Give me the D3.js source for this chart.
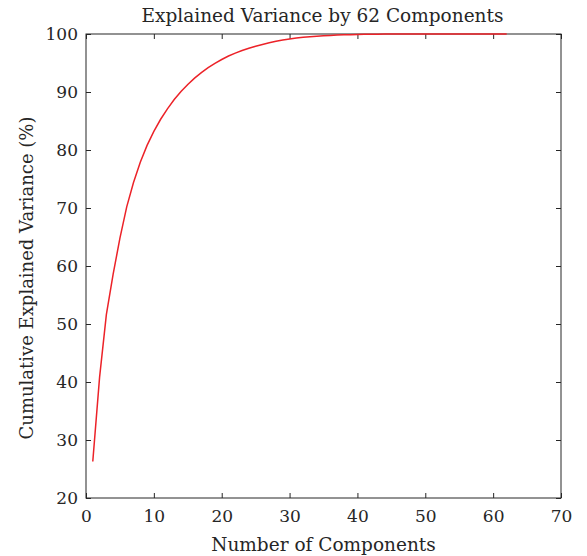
<!DOCTYPE html>
<html>
<head>
<meta charset="utf-8">
<script src="https://cdn.jsdelivr.net/npm/d3@7"></script>
<style>
  html, body { margin: 0; padding: 0; background: #fff; }
  svg { display: block; }
  text { font-family: "DejaVu Serif", "Liberation Serif", serif; fill: #262626; }
</style>
</head>
<body>
<svg id="chart" width="587" height="556"></svg>
<script>
const components = d3.range(1, 63);
const cumulativeVariance = [
  26.3, 40.8, 51.6, 58.6, 64.8, 70.2, 74.4, 77.9, 80.8, 83.2,
  85.3, 87.1, 88.7, 90.1, 91.3, 92.4, 93.35, 94.2, 94.95, 95.6,
  96.2, 96.7, 97.15, 97.55, 97.9, 98.2, 98.5, 98.75, 98.97, 99.15,
  99.3, 99.43, 99.54, 99.63, 99.7, 99.76, 99.81, 99.85, 99.89, 99.92,
  99.94, 99.96, 99.97, 99.98, 99.99, 99.99, 99.99, 99.99, 99.99, 99.99,
  99.99, 99.99, 99.99, 99.99, 99.99, 99.99, 99.99, 99.99, 99.99, 99.99,
  99.99, 100
];
const xTicks = [0, 10, 20, 30, 40, 50, 60, 70];
const yTicks = [20, 30, 40, 50, 60, 70, 80, 90, 100];
const titleText = "Explained Variance by 62 Components";
const xLabel = "Number of Components";
const yLabel = "Cumulative Explained Variance (%)";

const margin = { left: 86, right: 26, top: 34, bottom: 58 };
const W = 587, H = 556;
const svg = d3.select("#chart");
const iw = W - margin.left - margin.right;
const ih = H - margin.top - margin.bottom;

const x = d3.scaleLinear().domain([0, 70]).range([margin.left, margin.left + iw]);
const y = d3.scaleLinear().domain([20, 100]).range([margin.top + ih, margin.top]);

const axisColor = "#262626";
const tickLen = 5;

// box
svg.append("rect")
  .attr("x", x(0)).attr("y", y(100))
  .attr("width", x(70) - x(0)).attr("height", y(20) - y(100))
  .attr("fill", "none").attr("stroke", axisColor).attr("stroke-width", 1);

// axes
const xAxis = svg.append("g").attr("transform", `translate(0,${y(20)})`)
  .call(d3.axisBottom(x).tickValues(xTicks).tickSizeInner(-tickLen).tickSizeOuter(0).tickPadding(12));
const xAxisTop = svg.append("g").attr("transform", `translate(0,${y(100)})`)
  .call(d3.axisTop(x).tickValues(xTicks).tickSizeInner(-tickLen).tickSizeOuter(0).tickFormat(""));
const yAxis = svg.append("g").attr("transform", `translate(${x(0)},0)`)
  .call(d3.axisLeft(y).tickValues(yTicks).tickSizeInner(-tickLen).tickSizeOuter(0).tickPadding(8));
const yAxisRight = svg.append("g").attr("transform", `translate(${x(70)},0)`)
  .call(d3.axisRight(y).tickValues(yTicks).tickSizeInner(-tickLen).tickSizeOuter(0).tickFormat(""));

[xAxis, xAxisTop, yAxis, yAxisRight].forEach(g => {
  g.select(".domain").remove();
  g.selectAll(".tick line").attr("stroke", axisColor);
  g.selectAll(".tick text").attr("fill", axisColor).style("font-size", "17px")
    .style("font-family", '"DejaVu Serif", serif');
});

// line
const line = d3.line().x((d, i) => x(components[i])).y(d => y(d));
svg.append("path")
  .datum(cumulativeVariance)
  .attr("fill", "none")
  .attr("stroke", "#ec2228")
  .attr("stroke-width", 1.5)
  .attr("d", line);

// title & labels
svg.append("text")
  .attr("x", (x(0) + x(70)) / 2 - 1).attr("y", 22)
  .attr("text-anchor", "middle").style("font-size", "18.5px")
  .text(titleText);
svg.append("text")
  .attr("x", (x(0) + x(70)) / 2).attr("y", 551)
  .attr("text-anchor", "middle").style("font-size", "18.5px")
  .text(xLabel);
svg.append("text")
  .attr("transform", `translate(33,${(y(20) + y(100)) / 2 + 12}) rotate(-90)`)
  .attr("text-anchor", "middle").style("font-size", "18px")
  .text(yLabel);
</script>
</body>
</html>
